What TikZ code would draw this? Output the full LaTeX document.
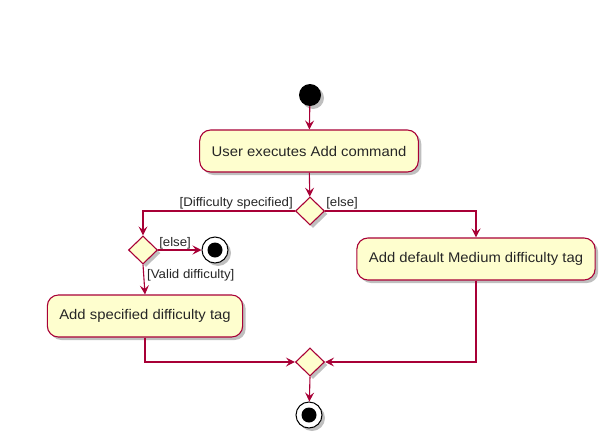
\documentclass[tikz,border=0pt]{standalone}
\usepackage{fontspec}
\setmainfont[FakeStretch=1.06]{Liberation Sans}
\usetikzlibrary{arrows.meta,shapes.geometric,shadows}
\definecolor{umlred}{HTML}{A80036}
\definecolor{umlfill}{HTML}{FEFECE}
\tikzset{
  x=1pt,y=-1pt,
  shade/.style={drop shadow={shadow xshift=3pt,shadow yshift=-3pt,fill=black,opacity=0.25}},
  action/.style={draw=umlred,fill=umlfill,line width=1.1pt,rounded corners=11pt,
    minimum height=42pt,inner xsep=12pt,font=\fontsize{14pt}{16pt}\selectfont,text=black!85,shade},
  decision/.style={draw=umlred,fill=umlfill,line width=1.1pt,diamond,inner sep=0pt,
    minimum width=29pt,minimum height=28pt,shade},
  startnode/.style={circle,fill=black,inner sep=0pt,minimum size=22pt,shade},
  endnode/.style={circle,draw=black,fill=white,line width=1pt,inner sep=0pt,minimum size=26pt,shade,
    path picture={\fill[black] (path picture bounding box.center) circle (7.5pt);}},
  flow/.style={draw=umlred,line width=1.1pt,-{Stealth[length=9pt,width=9pt,inset=3.5pt]}},
  guard/.style={font=\fontsize{12.5pt}{14pt}\selectfont,text=black!85,inner sep=1pt},
}
\begin{document}
\begin{tikzpicture}
\useasboundingbox (0,0) rectangle (615,447);
\node[startnode] (start) at (310,95) {};
\node[action,minimum width=218pt] (user) at (309,151) {User executes Add command};
\node[decision] (d1) at (310,211) {};
\node[decision] (d2) at (143,250) {};
\node[endnode] (stop1) at (215,250) {};
\node[action,minimum width=194pt] (spec) at (145,316) {Add specified difficulty tag};
\node[action,minimum width=237pt] (deflt) at (476,259) {Add default Medium difficulty tag};
\node[decision] (merge) at (310,362) {};
\node[endnode] (stop2) at (309,415) {};

\draw[flow] (start) -- (user);
\draw[flow] (user) -- (d1);
\draw[flow] (d1.west) -| (d2.north);
\draw[flow] (d1.east) -| (deflt.north);
\draw[flow] (d2.east) -- (stop1);
\draw[flow] (d2.south) -- (spec.north);
\draw[flow] (spec.south) |- (merge.west);
\draw[flow] (deflt.south) |- (merge.east);
\draw[flow] (merge.south) -- (stop2);

\node[guard,anchor=south east] at ([xshift=-1pt,yshift=1pt]d1.west) {[Difficulty specified]};
\node[guard,anchor=south west] at ([xshift=0pt,yshift=1pt]d1.east) {[else]};
\node[guard,anchor=south west] at ([xshift=0pt,yshift=0pt]d2.east) {[else]};
\node[guard,anchor=north west] at ([xshift=3pt,yshift=-4pt]d2.south) {[Valid difficulty]};
\end{tikzpicture}
\end{document}
